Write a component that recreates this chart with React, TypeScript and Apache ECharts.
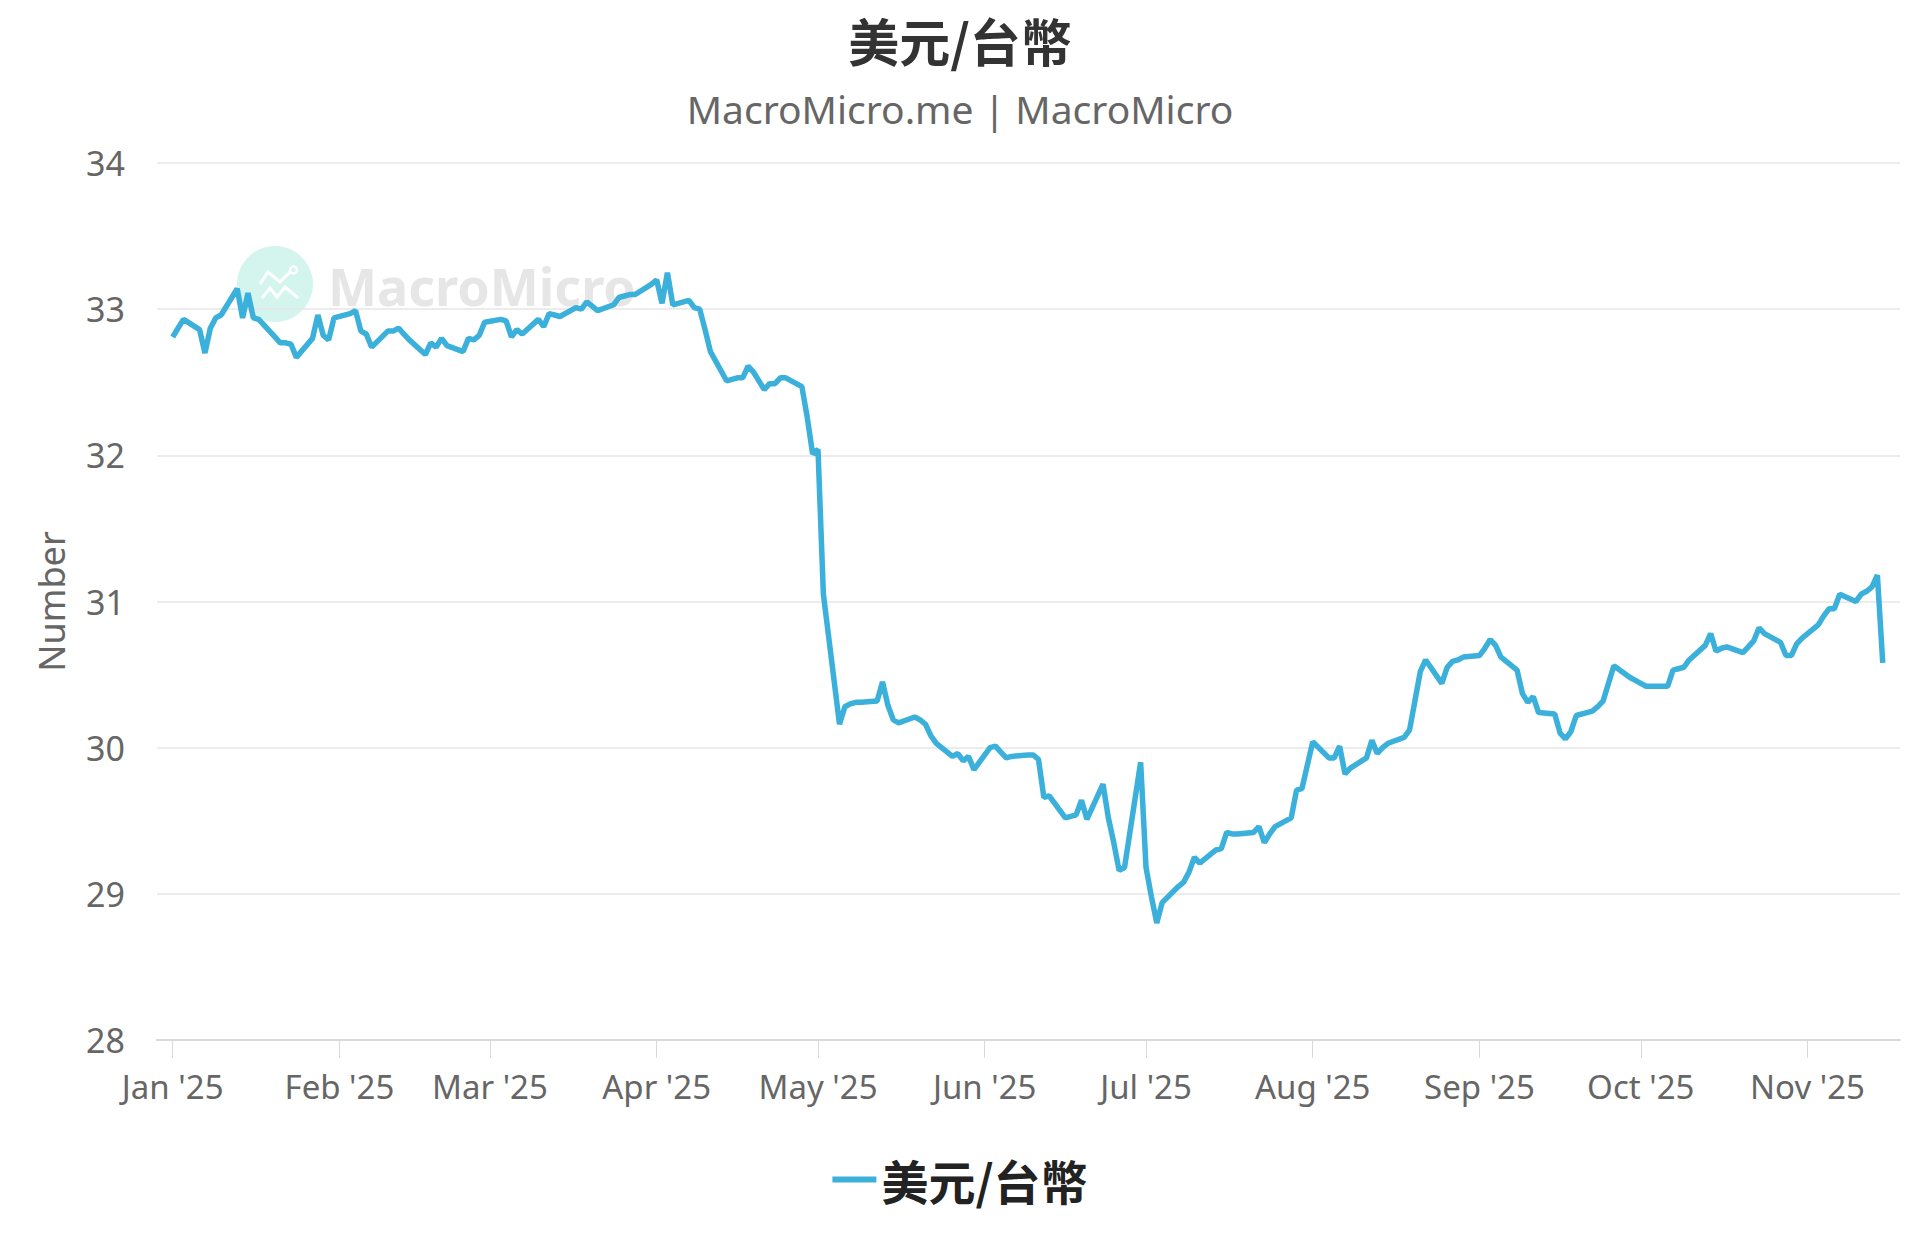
import React, { useEffect, useRef } from "react";
import * as echarts from "echarts";

const SERIES_NAME = "美元/台幣";
const TITLE = "美元/台幣";
const SUBTITLE = "MacroMicro.me | MacroMicro";
const Y_NAME = "Number";
const MONTHS = ["Jan", "Feb", "Mar", "Apr", "May", "Jun", "Jul", "Aug", "Sep", "Oct", "Nov", "Dec"];
const Y_MIN = 28;
const Y_MAX = 34;
const Y_INTERVAL = 1;

const DATES = [
  "2025-01-01", "2025-01-03", "2025-01-06", "2025-01-07", "2025-01-08", "2025-01-09", "2025-01-10",
  "2025-01-13", "2025-01-14", "2025-01-15", "2025-01-16", "2025-01-17", "2025-01-20", "2025-01-21",
  "2025-01-22", "2025-01-23", "2025-01-24", "2025-01-27", "2025-01-28", "2025-01-29", "2025-01-30",
  "2025-01-31", "2025-02-03", "2025-02-04", "2025-02-05", "2025-02-06", "2025-02-07", "2025-02-10",
  "2025-02-11", "2025-02-12", "2025-02-13", "2025-02-14", "2025-02-17", "2025-02-18", "2025-02-19",
  "2025-02-20", "2025-02-21", "2025-02-24", "2025-02-25", "2025-02-26", "2025-02-27", "2025-02-28",
  "2025-03-03", "2025-03-04", "2025-03-05", "2025-03-06", "2025-03-07", "2025-03-10", "2025-03-11",
  "2025-03-12", "2025-03-13", "2025-03-14", "2025-03-17", "2025-03-18", "2025-03-19", "2025-03-20",
  "2025-03-21", "2025-03-24", "2025-03-25", "2025-03-26", "2025-03-27", "2025-03-28", "2025-03-31",
  "2025-04-01", "2025-04-02", "2025-04-03", "2025-04-04", "2025-04-07", "2025-04-08", "2025-04-09",
  "2025-04-10", "2025-04-11", "2025-04-14", "2025-04-15", "2025-04-16", "2025-04-17", "2025-04-18",
  "2025-04-19", "2025-04-21", "2025-04-22", "2025-04-23", "2025-04-24", "2025-04-25", "2025-04-28",
  "2025-04-29", "2025-04-30", "2025-05-01", "2025-05-02", "2025-05-05", "2025-05-06", "2025-05-07",
  "2025-05-08", "2025-05-09", "2025-05-12", "2025-05-13", "2025-05-14", "2025-05-15", "2025-05-16",
  "2025-05-19", "2025-05-20", "2025-05-21", "2025-05-22", "2025-05-23", "2025-05-26", "2025-05-27",
  "2025-05-28", "2025-05-29", "2025-05-30", "2025-06-02", "2025-06-03", "2025-06-04", "2025-06-05",
  "2025-06-06", "2025-06-09", "2025-06-10", "2025-06-11", "2025-06-12", "2025-06-13", "2025-06-16",
  "2025-06-17", "2025-06-18", "2025-06-19", "2025-06-20", "2025-06-23", "2025-06-24", "2025-06-25",
  "2025-06-26", "2025-06-27", "2025-06-30", "2025-07-01", "2025-07-02", "2025-07-03", "2025-07-04",
  "2025-07-07", "2025-07-08", "2025-07-09", "2025-07-10", "2025-07-11", "2025-07-14", "2025-07-15",
  "2025-07-16", "2025-07-17", "2025-07-18", "2025-07-21", "2025-07-22", "2025-07-23", "2025-07-24",
  "2025-07-25", "2025-07-28", "2025-07-29", "2025-07-30", "2025-07-31", "2025-08-01", "2025-08-04",
  "2025-08-05", "2025-08-06", "2025-08-07", "2025-08-08", "2025-08-11", "2025-08-12", "2025-08-13",
  "2025-08-14", "2025-08-15", "2025-08-18", "2025-08-19", "2025-08-20", "2025-08-21", "2025-08-22",
  "2025-08-25", "2025-08-26", "2025-08-27", "2025-08-28", "2025-08-29", "2025-09-01", "2025-09-02",
  "2025-09-03", "2025-09-04", "2025-09-05", "2025-09-08", "2025-09-09", "2025-09-10", "2025-09-11",
  "2025-09-12", "2025-09-15", "2025-09-16", "2025-09-17", "2025-09-18", "2025-09-19", "2025-09-22",
  "2025-09-23", "2025-09-24", "2025-09-25", "2025-09-26", "2025-09-29", "2025-09-30", "2025-10-01",
  "2025-10-02", "2025-10-03", "2025-10-06", "2025-10-07", "2025-10-08", "2025-10-09", "2025-10-10",
  "2025-10-13", "2025-10-14", "2025-10-15", "2025-10-16", "2025-10-17", "2025-10-20", "2025-10-21",
  "2025-10-22", "2025-10-23", "2025-10-24", "2025-10-27", "2025-10-28", "2025-10-29", "2025-10-30",
  "2025-10-31", "2025-11-03", "2025-11-04", "2025-11-05", "2025-11-06", "2025-11-07", "2025-11-10",
  "2025-11-11", "2025-11-12", "2025-11-13", "2025-11-14", "2025-11-15",
];

const VALUES = [
  32.81, 32.93, 32.86, 32.70, 32.87, 32.94, 32.96,
  33.14, 32.94, 33.11, 32.94, 32.93, 32.81, 32.77,
  32.77, 32.76, 32.67, 32.80, 32.96, 32.82, 32.79,
  32.94, 32.97, 32.99, 32.85, 32.83, 32.74, 32.85,
  32.85, 32.87, 32.83, 32.79, 32.69, 32.77, 32.74,
  32.80, 32.75, 32.71, 32.80, 32.79, 32.82, 32.91,
  32.93, 32.92, 32.81, 32.86, 32.83, 32.93, 32.88,
  32.97, 32.96, 32.95, 33.01, 33.00, 33.05, 33.02,
  32.99, 33.03, 33.08, 33.09, 33.10, 33.10, 33.17,
  33.20, 33.04, 33.25, 33.03, 33.06, 33.01, 33.00,
  32.86, 32.71, 32.51, 32.52, 32.53, 32.53, 32.61,
  32.57, 32.45, 32.49, 32.49, 32.53, 32.53, 32.47,
  32.26, 32.01, 32.04, 31.05, 30.16, 30.28, 30.30,
  30.31, 30.31, 30.32, 30.45, 30.29, 30.19, 30.17,
  30.21, 30.19, 30.16, 30.08, 30.03, 29.94, 29.96,
  29.91, 29.94, 29.85, 30.00, 30.01, 29.97, 29.93,
  29.94, 29.95, 29.95, 29.92, 29.66, 29.67, 29.52,
  29.53, 29.54, 29.64, 29.51, 29.75, 29.52, 29.35,
  29.16, 29.18, 29.90, 29.18, 28.98, 28.80, 28.94,
  29.05, 29.08, 29.15, 29.25, 29.21, 29.30, 29.31,
  29.42, 29.41, 29.41, 29.42, 29.46, 29.35, 29.41,
  29.46, 29.52, 29.71, 29.72, 29.88, 30.04, 29.93,
  29.93, 30.01, 29.82, 29.86, 29.93, 30.05, 29.96,
  30.00, 30.03, 30.07, 30.12, 30.32, 30.52, 30.60,
  30.44, 30.55, 30.59, 30.60, 30.62, 30.63, 30.68,
  30.74, 30.70, 30.62, 30.53, 30.37, 30.31, 30.35,
  30.24, 30.23, 30.10, 30.06, 30.11, 30.22, 30.25,
  30.28, 30.32, 30.44, 30.56, 30.48, 30.46, 30.44,
  30.42, 30.42, 30.42, 30.53, 30.54, 30.55, 30.60,
  30.70, 30.78, 30.66, 30.68, 30.69, 30.65, 30.69,
  30.73, 30.82, 30.78, 30.72, 30.63, 30.63, 30.71,
  30.75, 30.84, 30.90, 30.95, 30.95, 31.05, 31.00,
  31.05, 31.07, 31.10, 31.18, 30.58,
];

const toUTC = (s: string) => {
  const [y, m, d] = s.split("-").map(Number);
  return Date.UTC(y, m - 1, d);
};

const FONT = "'Noto Sans', 'Noto Sans CJK TC', sans-serif";
const CJK_FONT = "'Noto Sans CJK TC', 'Noto Sans', sans-serif";

export default function App() {
  const ref = useRef<HTMLDivElement>(null);

  useEffect(() => {
    if (!ref.current) return;
    const chart = echarts.init(ref.current, null, { renderer: "svg" });
    const data = DATES.map((d, i) => [toUTC(d), VALUES[i]]);

    const option: any = {
      animation: false,
      useUTC: true,
      backgroundColor: "#ffffff",
      title: [
        {
          text: TITLE,
          left: "center",
          top: 9,
          textStyle: { fontFamily: CJK_FONT, fontSize: 51, fontWeight: "bold", color: "#333333" },
        },
        {
          text: SUBTITLE,
          left: "center",
          top: 84,
          textStyle: { fontFamily: FONT, fontSize: 39, fontWeight: "normal", color: "#666666" },
        },
      ],
      legend: {
        data: [SERIES_NAME],
        left: "center",
        top: 1151,
        icon: "rect",
        itemWidth: 44,
        itemHeight: 6,
        itemGap: 10,
        textStyle: { fontFamily: CJK_FONT, fontSize: 47, fontWeight: "bold", color: "#222222" },
      },
      grid: { left: 157, right: 20, top: 163, bottom: 210, containLabel: false },
      graphic: [
        {
          type: "group",
          silent: true,
          z: 0,
          children: [
            { type: "circle", shape: { cx: 275, cy: 284, r: 38 }, style: { fill: "#d3f5ee" }, z: 0 },
            {
              type: "polyline",
              shape: { points: [[260, 284], [268, 272], [280, 282], [290, 272]] },
              style: { stroke: "#ffffff", lineWidth: 3, fill: "none" },
              z: 0,
            },
            {
              type: "polyline",
              shape: { points: [[262, 298], [270, 288], [277, 297], [285, 287], [298, 298]] },
              style: { stroke: "#ffffff", lineWidth: 3, fill: "none" },
              z: 0,
            },
            { type: "circle", shape: { cx: 293.5, cy: 270, r: 3.5 }, style: { fill: "none", stroke: "#ffffff", lineWidth: 2.5 }, z: 0 },
            {
              type: "text",
              x: 328,
              y: 285,
              style: {
                text: "MacroMicro",
                fontFamily: FONT,
                fontSize: 52,
                fontWeight: "bold",
                fill: "#e6e6e6",
                verticalAlign: "middle",
              },
              z: 0,
            },
          ],
        },
      ],
      xAxis: {
        type: "time",
        min: Date.UTC(2024, 11, 29, 2),
        max: Date.UTC(2025, 10, 18, 5),
        minInterval: 28 * 86400000,
        maxInterval: 31 * 86400000,
        axisLine: { show: true, lineStyle: { color: "#d9d9d9", width: 2 } },
        axisTick: { show: true, length: 18, lineStyle: { color: "#d9d9d9", width: 1 } },
        splitLine: { show: false },
        axisLabel: {
          margin: 30,
          color: "#666666",
          fontFamily: FONT,
          fontSize: 33,
          showMinLabel: false,
          showMaxLabel: false,
          hideOverlap: false,
          formatter: (v: number) => {
            const d = new Date(v);
            return `${MONTHS[d.getUTCMonth()]} '${String(d.getUTCFullYear()).slice(2)}`;
          },
        },
      },
      yAxis: {
        type: "value",
        min: Y_MIN,
        max: Y_MAX,
        interval: Y_INTERVAL,
        name: Y_NAME,
        nameLocation: "middle",
        nameGap: 88,
        nameRotate: 90,
        nameTextStyle: { fontFamily: FONT, fontSize: 36, color: "#666666" },
        axisLine: { show: false },
        axisTick: { show: false },
        axisLabel: { margin: 32, color: "#666666", fontFamily: FONT, fontSize: 34 },
        splitLine: { show: true, lineStyle: { color: "#e6e6e6", width: 1.5 } },
      },
      series: [
        {
          name: SERIES_NAME,
          type: "line",
          data,
          showSymbol: false,
          symbol: "none",
          z: 5,
          lineStyle: { color: "#3bb0db", width: 5.5 },
          itemStyle: { color: "#3bb0db" },
        },
      ],
    };

    chart.setOption(option);
    return () => chart.dispose();
  }, []);

  return (
    <div
      ref={ref}
      style={{ position: "fixed", left: 0, top: 0, width: 1920, height: 1250, background: "#fff" }}
    />
  );
}
